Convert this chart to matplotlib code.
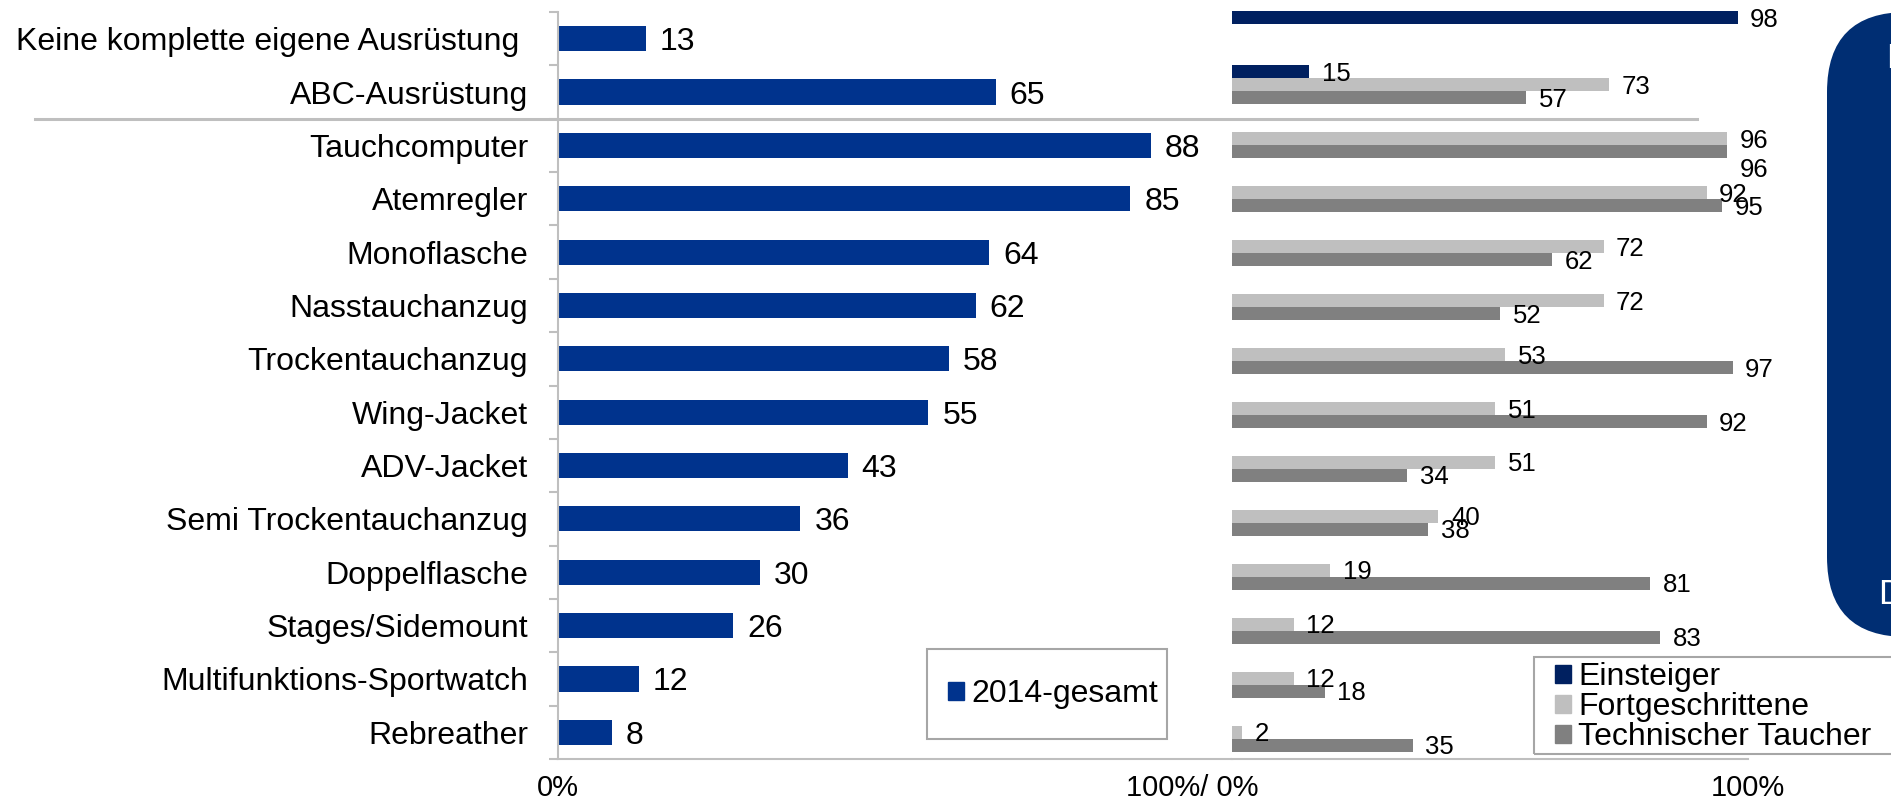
import numpy as np
import matplotlib
matplotlib.use('Agg')
import matplotlib.pyplot as plt
from matplotlib.patches import Patch, Rectangle, FancyBboxPatch
from matplotlib.lines import Line2D

plt.rcParams['font.family'] = ['Liberation Sans', 'DejaVu Sans']

# Data
categories = ['Keine komplette eigene Ausrüstung ', 'ABC-Ausrüstung', 'Tauchcomputer',
              'Atemregler', 'Monoflasche', 'Nasstauchanzug', 'Trockentauchanzug',
              'Wing-Jacket', 'ADV-Jacket', 'Semi Trockentauchanzug', 'Doppelflasche',
              'Stages/Sidemount', 'Multifunktions-Sportwatch', 'Rebreather']
gesamt = [13, 65, 88, 85, 64, 62, 58, 55, 43, 36, 30, 26, 12, 8]
nan = np.nan
einsteiger = [98, 15, nan, nan, nan, nan, nan, nan, nan, nan, nan, nan, nan, nan]
fortgeschrittene = [nan, 73, 96, 92, 72, 72, 53, 51, 51, 40, 19, 12, 12, 2]
technisch = [nan, 57, 96, 95, 62, 52, 97, 92, 34, 38, 81, 83, 18, 35]
groups = ['Einsteiger', 'Fortgeschrittene', 'Technischer Taucher']

# colours
c_total = '#00338D'
c_groups = ['#002060', '#BFBFBF', '#808080']
c_axis = '#BFBFBF'
c_box = '#002E73'

W, H = 1891, 809
def frect(x0, y0, x1, y1):
    # pixel box (top-left origin) -> figure fraction
    return [x0 / W, 1 - y1 / H, (x1 - x0) / W, (y1 - y0) / H]

fig = plt.figure(figsize=(W / 100, H / 100), dpi=100)
ax1 = fig.add_axes(frect(558, 12, 1231.5, 759))
ax2 = fig.add_axes(frect(1232, 4, 1748, 759))

y = np.arange(len(categories))

## Left panel: total
ax1.barh(y, gesamt, height=0.47, color=c_total)
ax1.set_xlim(0, 100)
ax1.set_ylim(len(categories) - 0.5, -0.5)
for s in ['top', 'right']:
    ax1.spines[s].set_visible(False)
for s in ['left', 'bottom']:
    ax1.spines[s].set_color(c_axis)
    ax1.spines[s].set_linewidth(1.5)
ax1.set_yticks(y)
ax1.set_yticklabels(categories, fontsize=23)
ax1.tick_params(axis='y', which='major', length=0, pad=21.5)
ax1.set_yticks(np.arange(-0.5, len(categories), 1), minor=True)
ax1.tick_params(axis='y', which='minor', length=6.5, width=1.5, color=c_axis)
ax1.set_xticks([0, 94.2])
ax1.set_xticklabels(['0%', '100%/ 0%'], fontsize=21)
ax1.tick_params(axis='x', length=0, pad=11)
for yi, v in zip(y, gesamt):
    ax1.annotate(str(v), (v, yi), xytext=(10, -2.5), textcoords='offset points',
                 va='center', ha='left', fontsize=23)

## Right panel: by group
w = 0.241
series = [einsteiger, fortgeschrittene, technisch]
for k, (vals, col) in enumerate(zip(series, c_groups)):
    ax2.barh(y + (k - 1) * w, vals, height=w, color=col)
ax2.set_xlim(0, 100)
ax2.set_ylim(len(categories) - 0.5, -0.5)
for s in ['top', 'right', 'left']:
    ax2.spines[s].set_visible(False)
ax2.spines['bottom'].set_color(c_axis)
ax2.spines['bottom'].set_linewidth(1.5)
ax2.set_yticks([])
ax2.set_xticks([100])
ax2.set_xticklabels(['100%'], fontsize=21)
ax2.tick_params(axis='x', length=0, pad=11)
for k, vals in enumerate(series):
    for yi, v in zip(y, vals):
        if np.isnan(v):
            continue
        dy = -1.5
        if k == 2 and yi == 2:
            dy = -13  # label pushed down in the original
        ax2.annotate(str(v), (v, yi + (k - 1) * w), xytext=(9, dy),
                     textcoords='offset points', va='center', ha='left', fontsize=18.5)

# separator under the first two rows
fig.add_artist(Line2D([35 / W, 1697 / W], [1 - 119 / H] * 2, transform=fig.transFigure,
                      color=c_axis, lw=2.2))

# legend 2014-gesamt
fig.legend(handles=[Patch(color=c_total, label='2014-gesamt')], loc='center left',
           bbox_to_anchor=(948 / W, 1 - 694 / H), frameon=False, fontsize=23,
           borderpad=0, borderaxespad=0, handlelength=0.5, handleheight=0.5,
           handletextpad=0.22)
r = frect(927, 649, 1167, 739)
fig.add_artist(Rectangle((r[0], r[1]), r[2], r[3], transform=fig.transFigure,
                         fill=False, edgecolor='#A6A6A6', lw=1.5))

# legend groups
fig.legend(handles=[Patch(color=c, label=g) for c, g in zip(c_groups, groups)],
           loc='center left', bbox_to_anchor=(1555 / W, 1 - 707 / H), frameon=False,
           fontsize=23, borderpad=0, borderaxespad=0, handlelength=0.5,
           handleheight=0.5, handletextpad=0.22, labelspacing=0.0)
r = frect(1534, 657, 1900, 754)
fig.add_artist(Rectangle((r[0], r[1]), r[2], r[3], transform=fig.transFigure,
                         fill=False, edgecolor='#A6A6A6', lw=1.5))

# blue box at the right edge (cut off)
fig.add_artist(FancyBboxPatch((18.27, (H - 637) / 100), 2.0, 6.25,
                              boxstyle='round,pad=0,rounding_size=0.8',
                              transform=fig.dpi_scale_trans, color=c_box, lw=0))
fig.text(1886 / W, 1 - 58 / H, 'D', color='white', fontsize=25, va='center', ha='left')
fig.text(1878 / W, 1 - 595 / H, 'D', color='white', fontsize=25, va='center', ha='left')

plt.savefig('out.png', dpi=100)
plt.close()
